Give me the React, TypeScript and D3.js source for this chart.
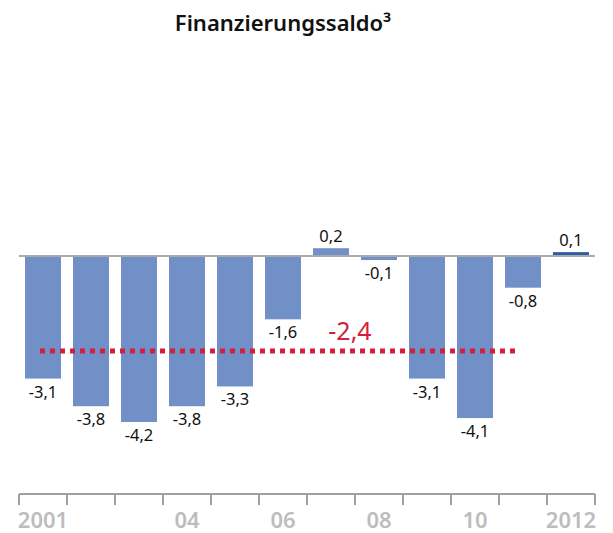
import React from 'react';
import * as d3 from 'd3';

const years = ['2001', '2002', '2003', '2004', '2005', '2006', '2007', '2008', '2009', '2010', '2011', '2012'];
const saldo = [-3.1, -3.8, -4.2, -3.8, -3.3, -1.6, 0.2, -0.1, -3.1, -4.1, -0.8, 0.1];
const tickLabels = ['2001', '', '', '04', '', '06', '', '08', '', '10', '', '2012'];
const averageValue = -2.4;
const averageLabel = '-2,4';

const W = 613;
const H = 533;
const font = '"Noto Sans", sans-serif';

const fmt = (v: number) => v.toFixed(1).replace('.', ',');

export default function App() {
  const x = d3.scaleBand().domain(years).range([19, 595]).paddingInner(0.25).paddingOuter(0.125);
  const y = d3.scaleLinear().domain([-4.2, 0.2]).range([422, 248.2]);
  const bw = x.bandwidth();
  const y0 = y(0);
  const step = x.step();
  const axisY = 494;
  const avgY = y(averageValue);

  return (
    <svg width={W} height={H} style={{ position: 'absolute', left: 0, top: 0 }}>
      <text x={283} y={31} textAnchor="middle" fontFamily={font} fontWeight={600} fontSize={22} fill="#111">
        Finanzierungssaldo³
      </text>

      {saldo.map((v, i) => {
        const x0 = x(years[i])!;
        const top = Math.min(y(v), y0);
        const h = Math.abs(y(v) - y0);
        const last = i === saldo.length - 1;
        return (
          <g key={years[i]}>
            <rect x={x0} y={top} width={bw} height={h} fill={last ? '#2E5BA6' : '#7190C8'} />
            <text
              x={x0 + bw / 2}
              y={v < 0 ? y(v) + 19 : y(v) - 6}
              textAnchor="middle"
              fontFamily={font}
              fontSize={16.5}
              fill="#111"
            >
              {fmt(v)}
            </text>
          </g>
        );
      })}

      <line x1={19} x2={595} y1={y0} y2={y0} stroke="#AAAAAA" strokeWidth={2} />

      <line
        x1={x(years[0])! + bw / 2 - 3}
        x2={x(years[10])! + bw / 2 - 3}
        y1={avgY}
        y2={avgY}
        stroke="#D21F3C"
        strokeWidth={5}
        strokeDasharray="5,5"
      />
      <text x={350} y={avgY - 11} textAnchor="middle" fontFamily={font} fontSize={25} fill="#D21F3C">
        {averageLabel}
      </text>

      <line x1={19} x2={595} y1={axisY} y2={axisY} stroke="#A0A0A0" strokeWidth={2} />
      {d3.range(years.length + 1).map((i) => (
        <line key={i} x1={19 + i * step} x2={19 + i * step} y1={axisY} y2={axisY + 11} stroke="#A0A0A0" strokeWidth={2} />
      ))}
      {tickLabels.map((t, i) =>
        t ? (
          <text
            key={i}
            x={x(years[i])! + bw / 2}
            y={528}
            textAnchor="middle"
            fontFamily={font}
            fontWeight={600}
            fontSize={22}
            fill="#BDBDBD"
          >
            {t}
          </text>
        ) : null
      )}
    </svg>
  );
}
